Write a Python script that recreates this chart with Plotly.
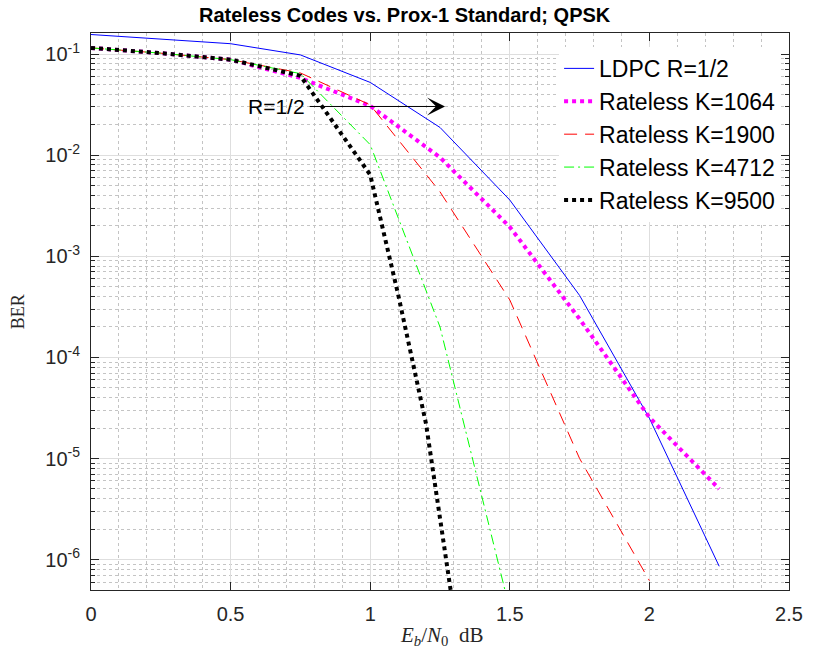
import numpy as np
import plotly.graph_objects as go

# ---------------- data ----------------
ebn0 = [0, 0.25, 0.5, 0.75, 1.0, 1.25, 1.5, 1.75, 2.0, 2.25]
ldpc_ber = [0.156, 0.140, 0.1265, 0.098, 0.0524, 0.0188, 0.0036, 4.1e-4, 2.5e-5, 8.6e-7]

k1064_x = [0, 0.25, 0.5, 0.75, 1.0, 1.25, 1.5, 1.75, 2.0, 2.25]
k1064_ber = [0.115, 0.102, 0.088, 0.058, 0.0307, 0.0095, 0.00195, 2.4e-4, 2.55e-5, 5.0e-6]

k1900_x = [0, 0.25, 0.5, 0.75, 1.0, 1.25, 1.5, 1.75, 2.0]
k1900_ber = [0.115, 0.102, 0.088, 0.065, 0.0314, 0.00434, 3.7e-4, 1.0e-5, 6.2e-7]

k4712_x = [0, 0.25, 0.5, 0.75, 1.0, 1.25, 1.5]
k4712_ber = [0.115, 0.102, 0.088, 0.064, 0.0127, 2.0e-4, 3.2e-7]

k9500_x = [0, 0.25, 0.5, 0.75, 1.0, 1.1, 1.2, 1.3]
k9500_ber = [0.115, 0.102, 0.088, 0.061, 6.4e-3, 4.2e-4, 2.2e-5, 3.0e-7]

series_names = ["LDPC R=1/2", "Rateless K=1064", "Rateless K=1900",
                "Rateless K=4712", "Rateless K=9500"]

x_ticks = [0, 0.5, 1, 1.5, 2, 2.5]
y_exponents = [-1, -2, -3, -4, -5, -6]
y_tick_vals = [10.0 ** e for e in y_exponents]
y_tick_text = ["10<sup>%d</sup>" % e for e in y_exponents]
y_minor_vals = [k * 10.0 ** e for e in range(-7, 0) for k in range(2, 10)]

title_text = "Rateless Codes vs. Prox-1 Standard; QPSK"
xlabel_text = "<i>E</i><sub><i>b</i></sub>/<i>N</i><sub>0</sub>  dB"
ylabel_text = "BER"

arrow_label = "R=1/2"
arrow_y = 0.0303
arrow_x_tail = 0.778
arrow_x_head = 1.268

# ---------------- figure ----------------
SANS = "Liberation Sans, Arial, Helvetica, sans-serif"
SERIF = "Liberation Serif, Times New Roman, serif"
AXC = "#262626"

fig = go.Figure()
fig.add_trace(go.Scatter(x=ebn0, y=ldpc_ber, mode="lines", name=series_names[0],
                         line=dict(color="#0000FF", width=1)))
fig.add_trace(go.Scatter(x=k1064_x, y=k1064_ber, mode="lines", name=series_names[1],
                         line=dict(color="#FF00FF", width=4, dash="4px,4px")))
fig.add_trace(go.Scatter(x=k1900_x, y=k1900_ber, mode="lines", name=series_names[2],
                         line=dict(color="#FF0000", width=1, dash="13px,8px")))
fig.add_trace(go.Scatter(x=k4712_x, y=k4712_ber, mode="lines", name=series_names[3],
                         line=dict(color="#00FF00", width=1, dash="10px,4px,2px,4px")))
fig.add_trace(go.Scatter(x=k9500_x, y=k9500_ber, mode="lines", name=series_names[4],
                         line=dict(color="#000000", width=4, dash="4px,4px")))

fig.update_layout(
    width=815, height=657,
    margin=dict(l=91, r=20, t=33, b=67),
    paper_bgcolor="white", plot_bgcolor="white",
    showlegend=True,
    legend=dict(x=0.6706, xanchor="left", y=0.975, yanchor="top",
                bgcolor="white", bordercolor="white", borderwidth=0,
                font=dict(family=SANS, size=23, color="black"),
                tracegroupgap=0),
    font=dict(family=SANS, color=AXC),
)

fig.update_xaxes(
    range=[0, 2.5], tickvals=x_ticks, ticktext=[str(v) for v in x_ticks],
    ticks="inside", ticklen=8, tickcolor=AXC, tickwidth=1,
    showline=True, linecolor=AXC, linewidth=1, mirror="allticks",
    showgrid=True, gridcolor="#dedede", gridwidth=1,
    tickfont=dict(family=SANS, size=20, color=AXC),
    ticklabelstandoff=6,
    zeroline=False,
    minor=dict(dtick=0.1, tick0=0, showgrid=True, gridcolor="#c4c4c4",
               griddash="dot", gridwidth=1, ticks=""),
)
fig.update_yaxes(
    type="log", range=[-6.3, -0.792],
    tickmode="array", tickvals=y_tick_vals, ticktext=y_tick_text,
    ticks="inside", ticklen=8, tickcolor=AXC, tickwidth=1,
    showline=True, linecolor=AXC, linewidth=1, mirror="allticks",
    showgrid=True, gridcolor="#dedede", gridwidth=1,
    tickfont=dict(family=SANS, size=20, color=AXC),
    ticklabelstandoff=6,
    zeroline=False,
    minor=dict(tickmode="array", tickvals=y_minor_vals, showgrid=True,
               gridcolor="#c4c4c4", griddash="dot", gridwidth=1,
               ticks="inside", ticklen=4, tickcolor=AXC),
)

# title and axis labels
fig.add_annotation(text="<b>%s</b>" % title_text, xref="paper", yref="paper",
                   x=0.4503, y=1.0323, xanchor="center", yanchor="middle",
                   showarrow=False, font=dict(family=SANS, size=20, color="black"))
fig.add_annotation(text=xlabel_text, xref="paper", yref="paper",
                   x=0.502, y=-0.083, xanchor="center", yanchor="middle",
                   showarrow=False, font=dict(family=SERIF, size=21, color=AXC))
fig.add_annotation(text=ylabel_text, xref="paper", yref="paper",
                   x=-0.105, y=0.5, xanchor="center", yanchor="middle",
                   textangle=-90, showarrow=False,
                   font=dict(family=SERIF, size=18, color=AXC))

# R=1/2 arrow
ly = float(np.log10(arrow_y))
fig.add_annotation(x=arrow_x_head, y=ly, ax=arrow_x_tail, ay=ly,
                   xref="x", yref="y", axref="x", ayref="y",
                   text="", showarrow=True, arrowhead=3, arrowsize=3,
                   arrowwidth=1, arrowcolor="black", standoff=0, startstandoff=0)
fig.add_annotation(x=arrow_x_tail, y=ly, xref="x", yref="y", text=arrow_label,
                   showarrow=False, xanchor="right", yanchor="middle", xshift=-1,
                   font=dict(family=SANS, size=21, color="black"))

fig.write_html("out.html")
